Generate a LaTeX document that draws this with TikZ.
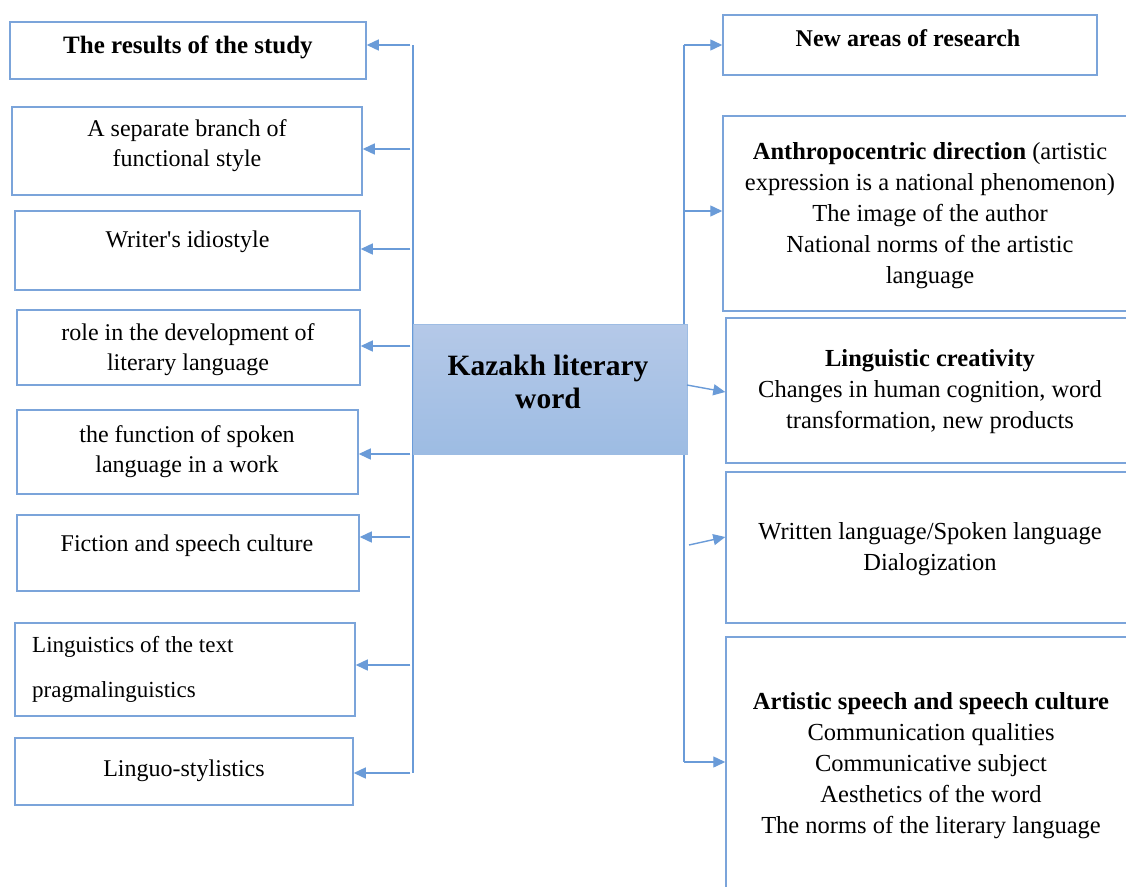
\documentclass[tikz,border=0pt]{standalone}
\usepackage{fontspec}
\setmainfont{Liberation Serif}
\usetikzlibrary{arrows.meta}
\definecolor{lineblue}{HTML}{6A9BD8}
\definecolor{boxblue}{HTML}{7BA4DA}
\definecolor{ctop}{HTML}{B5C9E8}
\definecolor{cbot}{HTML}{9DBCE3}
\tikzset{
  box/.style={draw=boxblue, line width=1.5pt, fill=white, inner sep=0pt, rectangle},
  conn/.style={draw=lineblue, line width=1.4pt},
  arr/.style={draw=lineblue, fill=lineblue, line width=1.4pt, -{Triangle[length=12pt,width=11pt]}},
  txt/.style={inner sep=0pt, align=center, font=\fontsize{24}{30}\selectfont},
  rtxt/.style={inner sep=0pt, align=center, font=\fontsize{24.5}{31}\selectfont},
}
\newcommand{\bxa}[5]{\node[box, minimum width=#4pt-#2pt, minimum height=#5pt-#3pt] (#1) at ({(#2+#4)/2},{(#3+#5)/2}) {};}
\begin{document}
\begin{tikzpicture}[x=1pt,y=-1pt]
\useasboundingbox (0,0) rectangle (1126,886);
\clip (0,0) rectangle (1126,886);
\fill[white] (0,0) rectangle (1126,886);
% left boxes
\bxa{L1}{10}{22}{366}{79}
\bxa{L2}{12}{107}{362}{195}
\bxa{L3}{15}{211}{360}{290}
\bxa{L4}{17}{310}{360}{385}
\bxa{L5}{17}{410}{358}{494}
\bxa{L6}{17}{515}{359}{591}
\bxa{L7}{15}{623}{355}{716}
\bxa{L8}{15}{738}{353}{805}
% right boxes
\bxa{R1}{723}{15}{1097}{75}
\bxa{R2}{723}{116}{1140}{311}
\bxa{R3}{726}{318}{1140}{463}
\bxa{R4}{726}{472}{1140}{623}
\bxa{R5}{726}{637}{1140}{900}
% spine coordinates
\coordinate (lt) at (413,45);
\coordinate (lb) at (413,773);
\coordinate (rt) at (684,45);
\coordinate (rb) at (684,762);
\draw[conn] (lt) -- (lb);
\draw[conn] (rt) -- (rb);
% left arrows
\foreach \n/\y in {L1/45,L2/149,L3/249,L4/346,L5/454,L6/537,L7/665,L8/773}{
  \coordinate (s\n) at (410,\y);
  \draw[arr] (s\n) -- (s\n -| \n.east);
}
% right arrows
\coordinate (sR1) at (684,45);
\coordinate (sR2) at (684,211);
\coordinate (sR5) at (684,762);
\draw[arr] (sR1) -- (sR1 -| R1.west);
\draw[arr] (sR2) -- (sR2 -| R2.west);
\draw[arr] (sR5) -- (sR5 -| R5.west);
% centre box
\node[draw=cbot, line width=1pt, top color=ctop, bottom color=cbot, minimum width=274pt, minimum height=130pt, inner sep=0pt] (C) at (550,389) {};
\node[inner sep=0pt, align=center, font=\fontsize{29.5}{33}\selectfont\bfseries] (Ct) at (548,381.5) {Kazakh literary\\word};
\coordinate (c3) at (687,385);
\coordinate (c4) at (689,545);
\draw[arr] (c3) -- (R3.west |- 0,392);
\draw[arr] (c4) -- (R4.west |- 0,537);
% left texts
\node[txt, font=\fontsize{25}{30}\selectfont\bfseries] (t1) at (188,47) {The results of the study};
\node[txt] (t2) at (187,145.5) {A separate branch of\\functional style};
\node[txt] (t3) at (187.5,242) {Writer\textquotesingle s idiostyle};
\node[txt] (t4) at (188,349.5) {role in the development of\\literary language};
\node[txt] (t5) at (187,451.5) {the function of spoken\\language in a work};
\node[txt] (t6) at (187,546) {Fiction and speech culture};
\node[inner sep=0pt, anchor=west, font=\fontsize{23}{30}\selectfont] (t7a) at (32,647) {Linguistics of the text};
\node[inner sep=0pt, anchor=west, font=\fontsize{23}{30}\selectfont] (t7b) at (32,692) {pragmalinguistics};
\node[txt] (t8) at (184,771) {Linguo-stylistics};
% right texts
\node[txt, font=\fontsize{24}{30}\selectfont\bfseries] (u1) at (908,38) {New areas of research};
\node[rtxt] (u2) at (930,215.5) {\textbf{Anthropocentric direction} (artistic\\expression is a national phenomenon)\\The image of the author\\National norms of the artistic\\language};
\node[rtxt] (u3) at (930,392) {\textbf{Linguistic creativity}\\Changes in human cognition, word\\transformation, new products};
\node[rtxt] (u4) at (930,549) {Written language/Spoken language\\Dialogization};
\node[rtxt] (u5) at (931,766) {\textbf{Artistic speech and speech culture}\\Communication qualities\\Communicative subject\\Aesthetics of the word\\The norms of the literary language};
\end{tikzpicture}
\end{document}
